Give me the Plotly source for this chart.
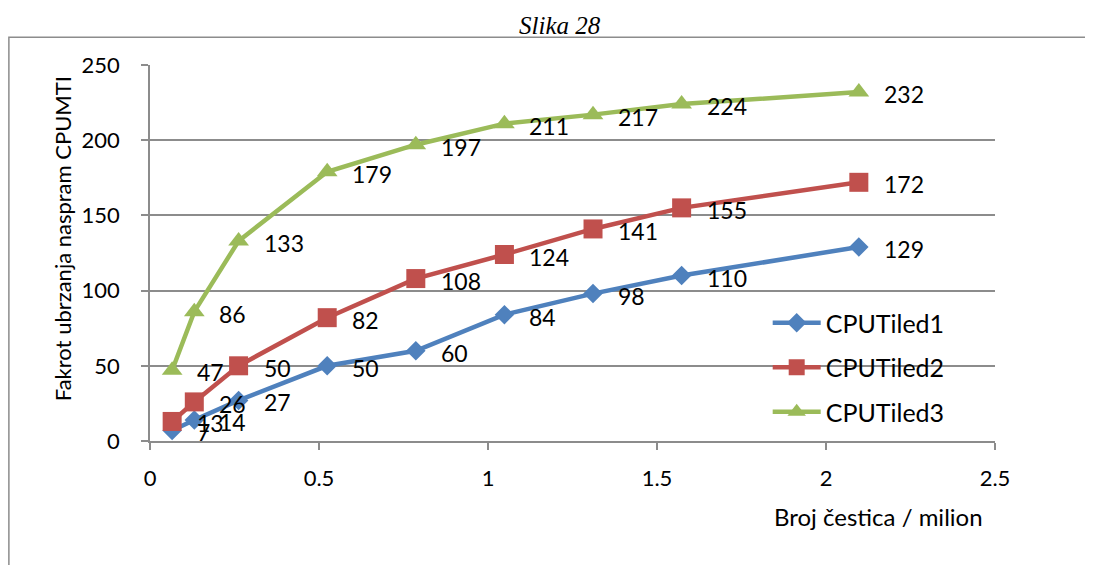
import plotly.graph_objects as go

x_vals = [0.065536, 0.131072, 0.262144, 0.524288, 0.786432, 1.048576, 1.310720, 1.572864, 2.097152]
tiled1 = [7, 14, 27, 50, 60, 84, 98, 110, 129]
tiled2 = [13, 26, 50, 82, 108, 124, 141, 155, 172]
tiled3 = [47, 86, 133, 179, 197, 211, 217, 224, 232]
names = ["CPUTiled1", "CPUTiled2", "CPUTiled3"]
colors = ["#4F81BD", "#C0504D", "#9BBB59"]
symbols = ["diamond", "square", "triangle-up"]
sizes = [15, 19, 18]
y_ticks = [0, 50, 100, 150, 200, 250]
x_ticks = [0, 0.5, 1, 1.5, 2, 2.5]

FONT = "Lato, Open Sans, sans-serif"

fig = go.Figure()
series = [tiled1, tiled2, tiled3]
for i, ys in enumerate(series):
    fig.add_trace(go.Scatter(
        x=x_vals, y=ys, mode="lines+markers", name=names[i],
        legendgroup=names[i],
        line=dict(color=colors[i], width=4.5),
        marker=dict(symbol=symbols[i], size=sizes[i], color=colors[i]),
    ))

annotations = []
for i, ys in enumerate(series):
    for xv, yv in zip(x_vals, ys):
        annotations.append(dict(
            x=xv, y=yv, xref="x", yref="y", text=str(yv), showarrow=False,
            xanchor="left", yanchor="middle", xshift=23, yshift=-2,
            font=dict(family=FONT, size=23, color="black")))

annotations.append(dict(x=0.988, y=-0.202, xref="paper", yref="paper",
                        text="Broj čestica / milion", showarrow=False,
                        xanchor="right", yanchor="middle",
                        font=dict(family=FONT, size=24, color="black")))
annotations.append(dict(x=-0.104, y=0.537, xref="paper", yref="paper",
                        text="Fakrot ubrzanja naspram CPUMTI", showarrow=False,
                        textangle=-90, xanchor="center", yanchor="middle",
                        font=dict(family=FONT, size=22, color="black")))
annotations.append(dict(x=0.485, y=1.104, xref="paper", yref="paper",
                        text="<i>Slika 28</i>", showarrow=False,
                        xanchor="center", yanchor="middle",
                        font=dict(family="Liberation Serif, Times New Roman, serif", size=25, color="black")))

fig.update_layout(
    width=1077, height=557,
    margin=dict(l=142, r=90, t=57, b=124),
    paper_bgcolor="white", plot_bgcolor="white",
    font=dict(family=FONT, size=22, color="black"),
    showlegend=True,
    legend=dict(x=0.731, y=0.375, xanchor="left", yanchor="top",
                bgcolor="rgba(0,0,0,0)", font=dict(family=FONT, size=25),
                traceorder="grouped", tracegroupgap=9, itemwidth=48),
    annotations=annotations,
    shapes=[dict(type="rect", xref="paper", yref="paper",
                 x0=-0.167, x1=1.3, y0=-0.6, y1=1.074,
                 line=dict(color="#8c8c8c", width=1.5), layer="below")],
)
fig.update_xaxes(range=[0, 2.5], tickvals=x_ticks, ticktext=[str(t) for t in x_ticks],
                 showgrid=False, zeroline=False, showline=True, linecolor="#8c8c8c",
                 linewidth=1.5, ticks="outside", ticklen=7, tickcolor="#8c8c8c",
                 tickwidth=1.5, ticklabelstandoff=10, tickfont=dict(size=22))
fig.update_yaxes(range=[0, 250], tickvals=y_ticks, showgrid=True, gridcolor="#8c8c8c",
                 gridwidth=1.5, zeroline=False, showline=True, linecolor="#8c8c8c",
                 linewidth=1.5, ticks="outside", ticklen=7, tickcolor="#8c8c8c",
                 tickwidth=1.5, ticklabelstandoff=17, tickfont=dict(size=22))

fig.write_html("out.html")
